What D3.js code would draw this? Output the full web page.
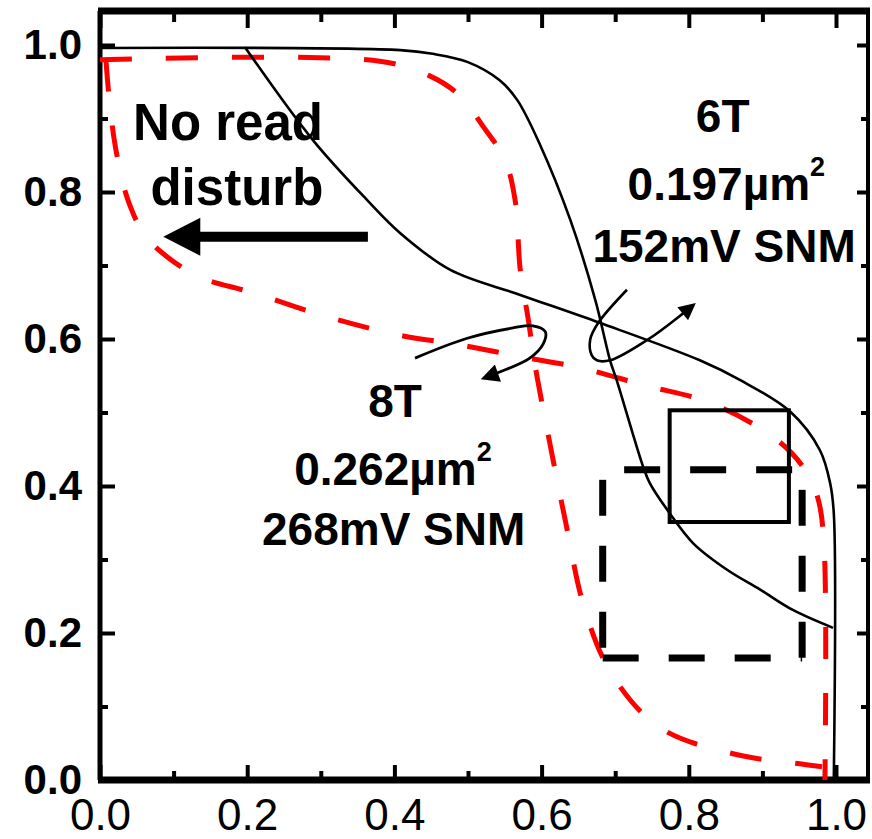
<!doctype html>
<head>
  <meta charset="utf-8">
  <title>6T vs 8T butterfly curves</title>
  <script src="https://d3js.org/d3.v7.min.js"></script>
  <style>
    body { margin: 0; background: #fff; }
    text { font-family: "Liberation Sans", Arial, sans-serif; fill: #000; }
  </style>
</head>
<body>
<div id="chart"></div>
<script>
// ---- data ----
var majorTicks = [0, 0.2, 0.4, 0.6, 0.8, 1.0];
var minorTicks = [0.1, 0.3, 0.5, 0.7, 0.9];

// 6T cell, solid black curves
var cell6T_a = [[0,0.996],[0.408,0.993],[0.452,0.988],[0.499,0.977],[0.543,0.952],[0.567,0.925],
  [0.598,0.864],[0.639,0.762],[0.673,0.653],[0.693,0.571],[0.702,0.544],[0.738,0.426],[0.747,0.404],
  [0.774,0.363],[0.806,0.322],[0.852,0.286],[0.897,0.259],[0.942,0.231],[0.996,0.207]];
var cell6T_b = [[0.197,0.997],[0.289,0.871],[0.363,0.789],[0.408,0.744],[0.476,0.694],[0.571,0.660],
  [0.679,0.622],[0.815,0.571],[0.870,0.544],[0.938,0.501],[0.978,0.449],[0.992,0.404],[0.997,0.363],[0.997,0]];

// 8T cell, red dashed curves
var cell8T_a = [[0,0.980],[0.380,0.978],[0.448,0.958],[0.489,0.931],[0.520,0.890],[0.550,0.844],
  [0.564,0.789],[0.571,0.694],[0.582,0.626],[0.591,0.565],[0.605,0.490],[0.632,0.354],[0.659,0.231],
  [0.696,0.143],[0.761,0.071],[0.863,0.035],[0.951,0.022],[0.981,0.018]];
var cell8T_b = [[0.008,0.980],[0.014,0.912],[0.023,0.850],[0.038,0.789],[0.061,0.741],[0.091,0.712],
  [0.136,0.684],[0.204,0.664],[0.313,0.629],[0.408,0.605],[0.489,0.592],[0.571,0.576],[0.652,0.561],
  [0.740,0.537],[0.829,0.513],[0.917,0.465],[0.958,0.422],[0.976,0.381],[0.984,0.313],[0.985,0]];

// SNM squares [x0, y0, x1, y1]
var snm6T = [0.774, 0.351, 0.936, 0.503];
var snm8T = [0.683, 0.166, 0.954, 0.422];

// annotation pointers
var pointer6T = [[0.716,0.667],[0.677,0.622],[0.666,0.599],[0.668,0.578],[0.675,0.571],[0.693,0.571],[0.747,0.601],[0.806,0.646]];
var pointer8T = [[0.428,0.574],[0.499,0.601],[0.561,0.615],[0.588,0.618],[0.605,0.610],[0.602,0.593],[0.584,0.574],[0.543,0.555],[0.522,0.547]];
var bigArrow = [[0.364,0.739],[0.086,0.739]];

var labels = [
  {x:0.174, y:0.871, size:51, parts:["No read"]},
  {x:0.186, y:0.782, size:51, parts:["disturb"]},
  {x:0.846, y:0.882, size:46, parts:["6T"]},
  {x:0.851, y:0.789, size:46, parts:["0.197\u00b5m", "2"]},
  {x:0.848, y:0.705, size:46, parts:["152mV SNM"]},
  {x:0.401, y:0.494, size:46, parts:["8T"]},
  {x:0.398, y:0.401, size:46, parts:["0.262\u00b5m", "2"]},
  {x:0.399, y:0.320, size:46, parts:["268mV SNM"]}
];

// ---- layout ----
var W = 872, H = 839;
var svg = d3.select("#chart").append("svg")
  .attr("width", W).attr("height", H);
svg.append("rect").attr("width", W).attr("height", H).attr("fill", "#fff");

var x = d3.scaleLinear().domain([0, 1]).range([100, 836]);
var y = d3.scaleLinear().domain([0, 1]).range([780, 45]);
var frame = {left: 100, right: 868, top: 11, bottom: 780};

// axes (ticks pointing in)
var fmt = d3.format(".1f");
function styleAxis(g, w) {
  g.select(".domain").remove();
  g.selectAll(".tick line").attr("stroke", "#000").attr("stroke-width", w);
}
svg.append("g").attr("transform", "translate(0," + frame.bottom + ")")
  .call(d3.axisBottom(x).tickValues(majorTicks).tickSize(-15).tickPadding(19).tickFormat(fmt))
  .call(styleAxis, 4)
  .selectAll("text").attr("font-size", 44).attr("font-family", "Liberation Sans, Arial").attr("fill", "#000");
svg.append("g").attr("transform", "translate(0," + frame.bottom + ")")
  .call(d3.axisBottom(x).tickValues(minorTicks).tickSize(-9).tickFormat(""))
  .call(styleAxis, 4);
svg.append("g").attr("transform", "translate(0," + frame.top + ")")
  .call(d3.axisTop(x).tickValues(majorTicks).tickSize(-17).tickFormat(""))
  .call(styleAxis, 4);
svg.append("g").attr("transform", "translate(0," + frame.top + ")")
  .call(d3.axisTop(x).tickValues(minorTicks).tickSize(-11).tickFormat(""))
  .call(styleAxis, 4);

svg.append("g").attr("transform", "translate(" + frame.left + ",0)")
  .call(d3.axisLeft(y).tickValues(majorTicks).tickSize(-15).tickPadding(18).tickFormat(fmt))
  .call(styleAxis, 4)
  .selectAll("text").attr("font-size", 42).attr("font-weight", "bold")
    .attr("font-family", "Liberation Sans, Arial").attr("fill", "#000");
svg.append("g").attr("transform", "translate(" + frame.left + ",0)")
  .call(d3.axisLeft(y).tickValues(minorTicks).tickSize(-8).tickFormat(""))
  .call(styleAxis, 4);
svg.append("g").attr("transform", "translate(" + frame.right + ",0)")
  .call(d3.axisRight(y).tickValues(majorTicks).tickSize(-11).tickFormat(""))
  .call(styleAxis, 4);
svg.append("g").attr("transform", "translate(" + frame.right + ",0)")
  .call(d3.axisRight(y).tickValues(minorTicks).tickSize(-7).tickFormat(""))
  .call(styleAxis, 4);

// frame
svg.append("line").attr("x1", frame.left - 2).attr("x2", frame.right + 2).attr("y1", frame.top).attr("y2", frame.top).attr("stroke", "#000").attr("stroke-width", 7);
svg.append("line").attr("x1", frame.left - 2).attr("x2", frame.right + 2).attr("y1", frame.bottom).attr("y2", frame.bottom).attr("stroke", "#000").attr("stroke-width", 7);
svg.append("line").attr("x1", frame.left).attr("x2", frame.left).attr("y1", frame.top).attr("y2", frame.bottom).attr("stroke", "#000").attr("stroke-width", 5);
svg.append("line").attr("x1", frame.right).attr("x2", frame.right).attr("y1", frame.top).attr("y2", frame.bottom).attr("stroke", "#000").attr("stroke-width", 4);

// curves
var line = d3.line().x(function(d){ return x(d[0]); }).y(function(d){ return y(d[1]); })
  .curve(d3.curveCatmullRom.alpha(0.5));

[cell8T_a, cell8T_b].forEach(function(c){
  svg.append("path").datum(c).attr("d", line)
    .attr("fill", "none").attr("stroke", "#ff0000").attr("stroke-width", 5)
    .attr("stroke-dasharray", "32,34");
});
[cell6T_a, cell6T_b].forEach(function(c){
  svg.append("path").datum(c).attr("d", line)
    .attr("fill", "none").attr("stroke", "#000").attr("stroke-width", 2.6);
});

// SNM squares
svg.append("rect")
  .attr("x", x(snm6T[0])).attr("y", y(snm6T[3]))
  .attr("width", x(snm6T[2]) - x(snm6T[0])).attr("height", y(snm6T[1]) - y(snm6T[3]))
  .attr("fill", "none").attr("stroke", "#000").attr("stroke-width", 4);

var sides = [
  {a:[snm8T[2], snm8T[3]], b:[snm8T[0], snm8T[3]], off:56},
  {a:[snm8T[0], snm8T[3]], b:[snm8T[0], snm8T[1]], off:56},
  {a:[snm8T[2], snm8T[3]], b:[snm8T[2], snm8T[1]], off:46},
  {a:[snm8T[0], snm8T[1]], b:[snm8T[2], snm8T[1]], off:0}
];
sides.forEach(function(s){
  svg.append("line")
    .attr("x1", x(s.a[0])).attr("y1", y(s.a[1])).attr("x2", x(s.b[0])).attr("y2", y(s.b[1]))
    .attr("stroke", "#000").attr("stroke-width", 7)
    .attr("stroke-dasharray", "36,30").attr("stroke-dashoffset", s.off);
});

// pointers with arrow heads
var defs = svg.append("defs");
defs.append("marker").attr("id", "head").attr("viewBox", "0 0 10 10")
  .attr("refX", 8).attr("refY", 5).attr("markerWidth", 7.5).attr("markerHeight", 6.5)
  .attr("markerUnits", "strokeWidth").attr("orient", "auto")
  .append("path").attr("d", "M0,0 L10,5 L0,10 z").attr("fill", "#000");

var smooth = d3.line().x(function(d){ return x(d[0]); }).y(function(d){ return y(d[1]); })
  .curve(d3.curveCatmullRom.alpha(0.5));
svg.append("path").datum(pointer6T).attr("d", smooth)
  .attr("fill", "none").attr("stroke", "#000").attr("stroke-width", 2.6).attr("marker-end", "url(#head)");
svg.append("path").datum(pointer8T).attr("d", smooth)
  .attr("fill", "none").attr("stroke", "#000").attr("stroke-width", 2.8).attr("marker-end", "url(#head)");

// big arrow
var tail = [x(bigArrow[0][0]), y(bigArrow[0][1])], tip = [x(bigArrow[1][0]), y(bigArrow[1][1])];
var headLen = 37, headHalf = 19, shaftHalf = 5;
svg.append("path")
  .attr("d", "M" + tail[0] + "," + (tail[1] - shaftHalf) +
    " L" + (tip[0] + headLen) + "," + (tail[1] - shaftHalf) +
    " L" + (tip[0] + headLen) + "," + (tip[1] - headHalf) +
    " L" + tip[0] + "," + tip[1] +
    " L" + (tip[0] + headLen) + "," + (tip[1] + headHalf) +
    " L" + (tip[0] + headLen) + "," + (tail[1] + shaftHalf) +
    " L" + tail[0] + "," + (tail[1] + shaftHalf) + " Z")
  .attr("fill", "#000");

// labels
labels.forEach(function(l){
  var t = svg.append("text").attr("x", x(l.x)).attr("y", y(l.y))
    .attr("text-anchor", "middle").attr("font-size", l.size).attr("font-weight", "bold");
  t.append("tspan").text(l.parts[0]);
  if (l.parts[1]) {
    t.append("tspan").text(l.parts[1]).attr("font-size", 27).attr("dy", -24);
  }
});
</script>
</body>
